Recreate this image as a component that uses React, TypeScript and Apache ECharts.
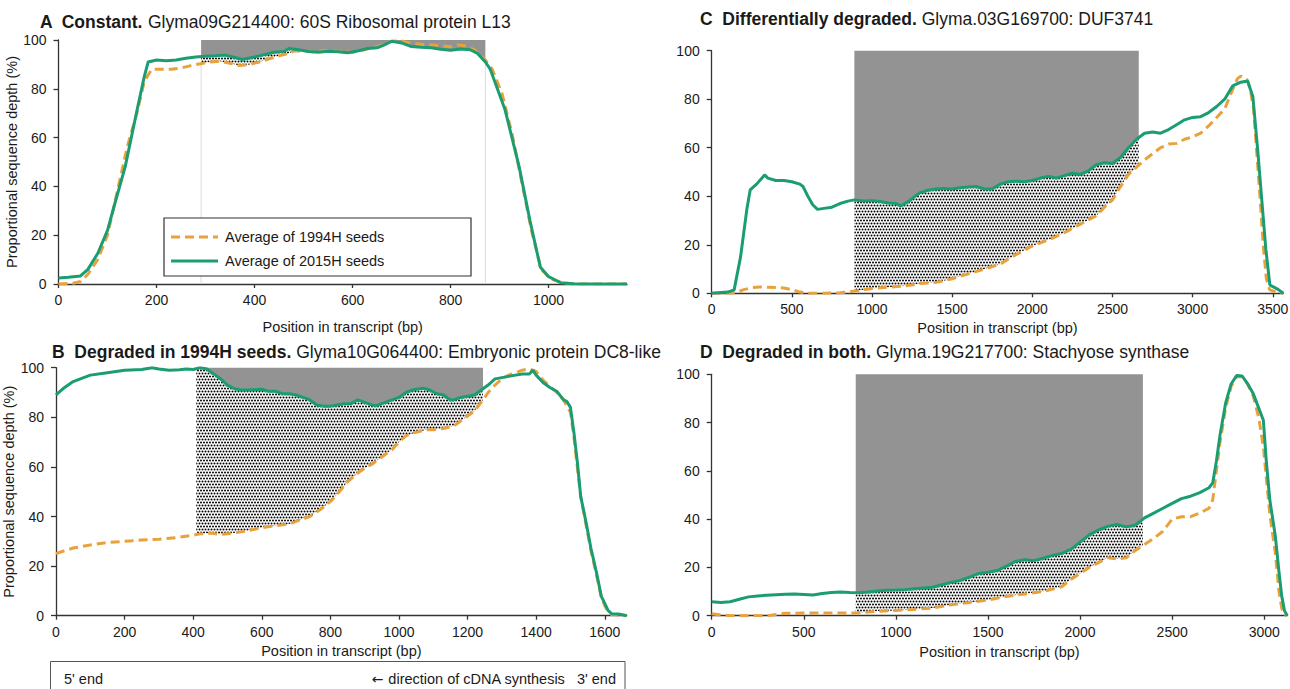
import React, { useEffect, useRef } from 'react';
import * as echarts from 'echarts';

const FONT = '"Liberation Sans", Arial, Helvetica, sans-serif';
const ORANGE = '#e9a23b';
const GREEN = '#1a9d72';
const GREY = '#939393';
const INK = '#1a1a1a';
const AXIS = '#333333';

const NAME_1994 = 'Average of 1994H seeds';
const NAME_2015 = 'Average of 2015H seeds';
const X_NAME = 'Position in transcript (bp)';
const Y_NAME = 'Proportional sequence depth (%)';
const Y_TICKS = [0, 20, 40, 60, 80, 100];

// ---------- Panel A ----------
const A_TITLE_BOLD = 'A  Constant.';
const A_TITLE = ' Glyma09G214400: 60S Ribosomal protein L13';
const A_TICKS = [0, 200, 400, 600, 800, 1000];
const A_MAX = 1160;
const A_SHADE = [291, 871];
const A_2015: number[][] = [
  [0, 2.5], [20, 2.8], [45, 3.3], [60, 6], [80, 12.5], [100, 22], [115, 33], [136, 48], [160, 71], [175, 85],
  [183, 91], [200, 91.8], [220, 91.5], [240, 91.8], [260, 92.5], [280, 93], [300, 93.3], [320, 93.5], [340, 93.8],
  [360, 92.8], [375, 92], [400, 93], [420, 94], [440, 95], [460, 95.3], [470, 96.5], [490, 96], [510, 95.3],
  [530, 95], [550, 95.4], [570, 95.2], [590, 94.8], [610, 95.5], [630, 96.5], [650, 96.8], [665, 98], [680, 99.5],
  [700, 98.8], [720, 97.3], [740, 97], [760, 96.8], [780, 96.2], [800, 95.8], [820, 96.3], [840, 96], [855, 94.5],
  [871, 91], [881, 88], [911, 71.5], [940, 48], [962, 26], [983, 7], [1000, 3], [1025, 0.5], [1050, 0.1],
  [1100, 0], [1160, 0],
];
const A_1994: number[][] = [
  [0, 0], [30, 0.3], [45, 1], [60, 4], [80, 10], [100, 20], [120, 38], [140, 56], [160, 70], [175, 83], [190, 88],
  [210, 88], [230, 88], [250, 88.5], [270, 89.5], [290, 90.3], [310, 91], [330, 91.3], [350, 90.5], [370, 89.5],
  [390, 90], [410, 91], [430, 92.3], [450, 93.5], [470, 94.5], [480, 95.5], [500, 95.5], [520, 95.2], [540, 95.6],
  [560, 95.5], [580, 95.3], [600, 95], [620, 95.8], [640, 96.8], [660, 98], [680, 99.5], [700, 99.6], [720, 98.6],
  [740, 98.2], [760, 98], [780, 97.6], [800, 97.2], [815, 98], [830, 97.5], [850, 95.8], [870, 92], [885, 88],
  [905, 78], [925, 62], [945, 42], [965, 22], [985, 6], [1005, 2], [1030, 0.4], [1060, 0], [1160, 0],
];

// ---------- Panel B ----------
const B_TITLE_BOLD = 'B  Degraded in 1994H seeds.';
const B_TITLE = ' Glyma10G064400: Embryonic protein DC8-like';
const B_TICKS = [0, 200, 400, 600, 800, 1000, 1200, 1400, 1600];
const B_MAX = 1664;
const B_SHADE = [409, 1245];
const B_2015: number[][] = [
  [0, 89], [20, 91.5], [50, 94.4], [100, 97], [150, 98], [200, 99], [250, 99.3], [280, 100], [300, 99.5],
  [330, 99], [360, 99.2], [380, 99.5], [400, 99.3], [420, 100], [440, 99.5], [460, 97.5], [480, 95.5], [500, 93],
  [520, 91.5], [540, 91], [560, 91], [600, 91.3], [620, 90.5], [640, 90.5], [660, 89.5], [680, 89.5], [700, 89],
  [720, 88], [740, 87], [760, 85], [780, 84.5], [800, 84.5], [820, 85], [840, 85.5], [860, 85.5], [880, 87],
  [900, 86], [920, 85], [935, 84.7], [960, 86], [980, 87], [1000, 88], [1020, 90], [1040, 91], [1060, 91.5],
  [1070, 91.7], [1090, 91], [1110, 89.5], [1130, 89], [1150, 87], [1160, 87], [1180, 88], [1200, 88.5],
  [1220, 89], [1240, 91], [1260, 93], [1280, 95.5], [1300, 96], [1320, 96.5], [1340, 97], [1360, 97.5],
  [1380, 97.5], [1390, 99], [1400, 97], [1420, 94], [1440, 92], [1460, 90.5], [1480, 87], [1490, 86.3],
  [1500, 84], [1510, 74], [1520, 62], [1530, 48], [1545, 38], [1560, 27], [1575, 18], [1590, 7.8], [1600, 5],
  [1610, 2], [1620, 0.8], [1640, 0.7], [1655, 0.3], [1664, 0],
];
const B_1994: number[][] = [
  [0, 25], [20, 26], [50, 27.3], [100, 28.5], [150, 29.5], [200, 30], [250, 30.5], [300, 30.8], [350, 31.5],
  [400, 32.5], [420, 33], [450, 33.3], [480, 32.8], [500, 33], [550, 34], [600, 35.5], [650, 36.5], [680, 37],
  [700, 38], [740, 40], [770, 42.7], [800, 46], [820, 49], [850, 54], [880, 57.5], [900, 59.5], [920, 61],
  [950, 64], [980, 67], [1000, 70], [1020, 72.5], [1050, 74], [1080, 75], [1100, 75], [1130, 75.5], [1160, 76.5],
  [1180, 78.5], [1200, 80.5], [1220, 82.5], [1245, 87], [1260, 90], [1280, 93], [1300, 95.5], [1320, 97],
  [1340, 98], [1360, 99], [1380, 99.5], [1400, 98.5], [1420, 95], [1440, 92.5], [1460, 90], [1480, 87],
  [1500, 82], [1510, 72], [1520, 60], [1530, 48], [1545, 37], [1560, 26], [1575, 17], [1590, 7.5], [1600, 4],
  [1610, 1.5], [1620, 0.5], [1640, 0.3], [1664, 0],
];

// ---------- Panel C ----------
const C_TITLE_BOLD = 'C  Differentially degraded.';
const C_TITLE = ' Glyma.03G169700: DUF3741';
const C_TICKS = [0, 500, 1000, 1500, 2000, 2500, 3000, 3500];
const C_MAX = 3565;
const C_SHADE = [890, 2664];
const C_2015: number[][] = [
  [0, 0], [100, 0.5], [140, 1.4], [180, 15], [220, 35], [240, 42.6], [280, 45], [330, 48.8], [350, 47.5],
  [400, 46.5], [450, 46.5], [500, 46], [550, 45], [570, 44], [600, 40], [630, 36.5], [660, 34.6], [700, 35],
  [750, 35.5], [800, 37], [850, 38], [890, 38.5], [950, 38], [1000, 38.2], [1050, 37.8], [1100, 37.2],
  [1150, 37], [1180, 36], [1230, 38], [1280, 40.5], [1300, 41.5], [1350, 42.5], [1400, 43], [1450, 43.2],
  [1500, 43], [1550, 43.5], [1600, 43.8], [1650, 44], [1700, 43], [1750, 43], [1800, 45], [1850, 46],
  [1900, 46.2], [1950, 46], [2000, 46.5], [2050, 47.5], [2100, 48.2], [2150, 47.5], [2200, 48.5], [2250, 49.5],
  [2300, 49], [2350, 50.5], [2400, 53], [2450, 53.8], [2500, 53.5], [2550, 56], [2600, 60], [2650, 63.5],
  [2700, 66], [2750, 66.5], [2800, 66], [2850, 67.5], [2900, 69.5], [2950, 71.5], [3000, 72.5], [3050, 72.8],
  [3100, 74.5], [3150, 77], [3200, 80], [3250, 85.5], [3300, 87], [3343, 87.5], [3376, 81], [3406, 59],
  [3432, 38], [3457, 18], [3482, 3.4], [3533, 1.6], [3565, 0],
];
const C_1994: number[][] = [
  [0, 0], [100, 0], [150, 0.3], [200, 1.5], [250, 2.3], [300, 2.6], [350, 2.5], [400, 2.4], [450, 2.2],
  [500, 1.5], [550, 0.5], [600, 0], [700, 0], [800, 0.2], [880, 0.8], [900, 1], [1000, 2], [1100, 2.5],
  [1200, 3], [1300, 4], [1400, 4.5], [1500, 6], [1600, 8], [1700, 10], [1800, 12], [1850, 14], [1900, 16],
  [2000, 19.5], [2100, 22], [2200, 25], [2300, 28.5], [2400, 32], [2450, 35.5], [2500, 38.5], [2550, 44],
  [2600, 49], [2650, 52], [2700, 55], [2750, 57.5], [2800, 60], [2850, 61.5], [2900, 61.8], [2950, 63.5],
  [3000, 64.5], [3050, 66], [3100, 69], [3150, 72.5], [3200, 76], [3250, 84], [3280, 88.5], [3300, 89.5],
  [3340, 88], [3360, 84], [3380, 76], [3400, 58], [3420, 40], [3440, 20], [3460, 6], [3480, 1.5], [3520, 0.5],
  [3565, 0],
];

// ---------- Panel D ----------
const D_TITLE_BOLD = 'D  Degraded in both.';
const D_TITLE = ' Glyma.19G217700: Stachyose synthase';
const D_TICKS = [0, 500, 1000, 1500, 2000, 2500, 3000];
const D_MAX = 3125;
const D_SHADE = [782, 2341];
const D_2015: number[][] = [
  [0, 5.8], [50, 5.5], [100, 5.8], [150, 6.8], [200, 7.8], [250, 8.2], [300, 8.5], [350, 8.7], [400, 8.9],
  [450, 9.0], [500, 8.8], [550, 8.6], [600, 9.2], [650, 9.6], [700, 9.8], [750, 9.6], [800, 9.5], [850, 9.8],
  [900, 10.2], [950, 10.5], [1000, 10.6], [1050, 10.8], [1100, 11.2], [1150, 11.5], [1200, 11.8], [1250, 12.8],
  [1300, 13.8], [1350, 14.6], [1400, 16], [1450, 17.5], [1500, 18], [1550, 18.7], [1600, 20.5], [1650, 22.5],
  [1700, 23.2], [1750, 22.8], [1800, 23.8], [1850, 25], [1900, 25.8], [1950, 27.5], [2000, 30.5], [2050, 33.5],
  [2100, 35.5], [2150, 37], [2200, 37.8], [2250, 36.8], [2300, 37.5], [2350, 40.5], [2400, 42.5], [2450, 44.5],
  [2500, 46.5], [2550, 48.5], [2600, 49.5], [2650, 51], [2700, 53], [2720, 55], [2740, 64], [2760, 75],
  [2790, 88], [2820, 96], [2850, 99.5], [2880, 99.3], [2910, 96], [2940, 92], [2970, 86], [2995, 81],
  [3010, 65], [3030, 48], [3060, 33], [3080, 18], [3095, 8], [3110, 2], [3125, 0],
];
const D_1994: number[][] = [
  [0, 0.8], [50, 0.3], [100, 0], [300, 0], [350, 0.5], [400, 1], [500, 1.1], [700, 1.1], [800, 1.2], [850, 1.5],
  [900, 1.8], [1000, 2.2], [1100, 2.6], [1200, 3.2], [1300, 4.5], [1400, 5.5], [1500, 6.5], [1600, 8],
  [1700, 9], [1800, 10], [1900, 12], [1950, 15], [2000, 17.5], [2050, 20], [2100, 22], [2150, 24], [2200, 23.5],
  [2250, 24], [2300, 27], [2350, 29.5], [2400, 32], [2450, 35], [2500, 40], [2550, 41], [2600, 41],
  [2650, 42.5], [2700, 44.5], [2720, 48], [2740, 60], [2760, 72], [2790, 86], [2820, 95], [2850, 99],
  [2880, 99], [2910, 96], [2940, 91], [2970, 82], [2995, 70], [3010, 58], [3030, 42], [3060, 26], [3080, 10],
  [3095, 3], [3110, 0.5], [3125, 0],
];

const FOOT_LEFT = "5' end";
const FOOT_ARROW = '\u2190';
const FOOT_RIGHT = " direction of cDNA synthesis   3' end";

function interp(arr: number[][], x: number): number {
  for (let i = 0; i < arr.length - 1; i++) {
    const a = arr[i], b = arr[i + 1];
    if (x >= a[0] && x <= b[0]) {
      const t = b[0] === a[0] ? 0 : (x - a[0]) / (b[0] - a[0]);
      return a[1] + t * (b[1] - a[1]);
    }
  }
  return arr[arr.length - 1][1];
}

function makeShade(g: number[][], o: number[][], shade: number[], edges: boolean, pattern: any) {
  const [xs, xe] = shade;
  return (_params: any, api: any) => {
    const c = (x: number, y: number) => api.coord([x, y]);
    const gPath = [[xs, interp(g, xs)], ...g.filter((p) => p[0] > xs && p[0] < xe), [xe, interp(g, xe)]];
    const oPath = [[xs, interp(o, xs)], ...o.filter((p) => p[0] > xs && p[0] < xe), [xe, interp(o, xe)]].map(
      (p) => [p[0], Math.min(p[1], interp(g, p[0]))]
    );
    const greyPts = [c(xs, 100), c(xe, 100), ...gPath.slice().reverse().map((p) => c(p[0], p[1]))];
    const dotPts = [...gPath.map((p) => c(p[0], p[1])), ...oPath.slice().reverse().map((p) => c(p[0], p[1]))];
    const children: any[] = [
      { type: 'polygon', shape: { points: greyPts }, style: { fill: GREY, stroke: null } },
      { type: 'polygon', shape: { points: dotPts }, style: { fill: pattern, stroke: null } },
    ];
    if (edges) {
      [xs, xe].forEach((x) => {
        const p0 = c(x, 0);
        const p1 = c(x, Math.min(interp(g, x), interp(o, x)));
        children.push({
          type: 'line',
          shape: { x1: p0[0], y1: p0[1], x2: p1[0], y2: p1[1] },
          style: { stroke: '#dcdcdc', lineWidth: 1 },
        });
      });
    }
    return { type: 'group', children };
  };
}

export default function App() {
  const ref = useRef<HTMLDivElement>(null);
  useEffect(() => {
    if (!ref.current) return;
    const chart = echarts.init(ref.current, undefined, { renderer: 'svg' });

    // staggered dot tile
    const cv = document.createElement('canvas');
    cv.width = 6;
    cv.height = 6;
    const ctx = cv.getContext('2d')!;
    ctx.fillStyle = '#ffffff';
    ctx.fillRect(0, 0, 6, 6);
    ctx.fillStyle = '#000000';
    [[1.5, 1.5], [4.5, 1.5], [0, 4.5], [3, 4.5], [6, 4.5]].forEach(([x, y]) => {
      ctx.beginPath();
      ctx.arc(x, y, 1.0, 0, Math.PI * 2);
      ctx.fill();
    });
    const pattern = { image: cv, repeat: 'repeat' };

    const panels = [
      { g: A_2015, o: A_1994, shade: A_SHADE, ticks: A_TICKS, max: A_MAX, interval: 200, edges: true,
        grid: { left: 58.5, top: 40, width: 568.5, height: 244 }, yName: true, nameGap: 35 },
      { g: B_2015, o: B_1994, shade: B_SHADE, ticks: B_TICKS, max: B_MAX, interval: 200, edges: false,
        grid: { left: 56, top: 367.7, width: 570.7, height: 248 }, yName: true, nameGap: 28 },
      { g: C_2015, o: C_1994, shade: C_SHADE, ticks: C_TICKS, max: C_MAX, interval: 500, edges: false,
        grid: { left: 711.7, top: 50.7, width: 571.5, height: 242.6 }, yName: false, nameGap: 27 },
      { g: D_2015, o: D_1994, shade: D_SHADE, ticks: D_TICKS, max: D_MAX, interval: 500, edges: false,
        grid: { left: 711.7, top: 374.3, width: 575.6, height: 241.4 }, yName: false, nameGap: 29 },
    ];

    const fmt = (v: number) => String(v);
    const grid = panels.map((p) => ({ ...p.grid, containLabel: false, outerBoundsMode: 'none' }));
    const xAxis = panels.map((p, i) => ({
      type: 'value', gridIndex: i, min: 0, max: p.max, interval: p.interval,
      name: X_NAME, nameLocation: 'middle', nameGap: p.nameGap,
      nameTextStyle: { fontSize: 14.5, color: INK, fontFamily: FONT },
      axisLine: { show: true, onZero: false, lineStyle: { color: AXIS, width: 1.3 } },
      axisTick: { show: true, length: 4, customValues: p.ticks, lineStyle: { color: AXIS, width: 1.3 } },
      axisLabel: { customValues: p.ticks, formatter: fmt, fontSize: 14, color: INK, fontFamily: FONT, margin: 9 },
      splitLine: { show: false },
    }));
    const yAxis = panels.map((p, i) => ({
      type: 'value', gridIndex: i, min: 0, max: 100, interval: 20,
      name: p.yName ? Y_NAME : '', nameLocation: 'middle', nameGap: 32,
      nameTextStyle: { fontSize: 14.5, color: INK, fontFamily: FONT },
      axisLine: { show: true, lineStyle: { color: AXIS, width: 1.3 } },
      axisTick: { show: true, length: 5, customValues: Y_TICKS, lineStyle: { color: AXIS, width: 1.3 } },
      axisLabel: { customValues: Y_TICKS, formatter: fmt, fontSize: 14, color: INK, fontFamily: FONT, margin: 12 },
      splitLine: { show: false },
    }));

    const series: any[] = [];
    panels.forEach((p, i) => {
      series.push({
        type: 'custom', xAxisIndex: i, yAxisIndex: i, data: [[p.shade[0], 0]], silent: true, z: 1,
        renderItem: makeShade(p.g, p.o, p.shade, p.edges, pattern),
      });
      series.push({
        name: NAME_1994, type: 'line', xAxisIndex: i, yAxisIndex: i, data: p.o, symbol: 'none', z: 3,
        lineStyle: { color: ORANGE, width: 3, type: [9, 5] }, itemStyle: { color: ORANGE },
      });
      series.push({
        name: NAME_2015, type: 'line', xAxisIndex: i, yAxisIndex: i, data: p.g, symbol: 'none', z: 4,
        lineStyle: { color: GREEN, width: 3 }, itemStyle: { color: GREEN },
      });
    });

    const titleText = (bold: string, rest: string, x: number, y: number) => ({
      type: 'text', x, y, z: 20,
      style: {
        text: `{b|${bold}}${rest}`,
        rich: { b: { fontWeight: 'bold', fontSize: 17.5, fontFamily: FONT, fill: INK } },
        fontSize: 17.5, fontFamily: FONT, fill: INK, verticalAlign: 'middle',
      },
    });
    const txt = (text: string, x: number, y: number, extra: any = {}) => ({
      type: 'text', x, y, z: 21,
      style: { text, fontSize: 14.5, fontFamily: FONT, fill: INK, verticalAlign: 'middle', ...extra },
    });

    chart.setOption({
      animation: false,
      textStyle: { fontFamily: FONT },
      grid, xAxis, yAxis, series,
      graphic: [
        titleText(A_TITLE_BOLD, A_TITLE, 40, 21.5),
        titleText(B_TITLE_BOLD, B_TITLE, 52, 351.5),
        titleText(C_TITLE_BOLD, C_TITLE, 700, 19),
        titleText(D_TITLE_BOLD, D_TITLE, 700, 351.5),
        // legend box (panel A)
        { type: 'rect', z: 10, shape: { x: 164, y: 218, width: 307, height: 58 },
          style: { fill: '#ffffff', stroke: '#333333', lineWidth: 1.2 } },
        { type: 'line', z: 11, shape: { x1: 171, y1: 237, x2: 218, y2: 237 },
          style: { stroke: ORANGE, lineWidth: 3, lineDash: [9, 5] } },
        { type: 'line', z: 11, shape: { x1: 171, y1: 261, x2: 218, y2: 261 },
          style: { stroke: GREEN, lineWidth: 3 } },
        txt(NAME_1994, 225, 237),
        txt(NAME_2015, 225, 261),
        // footer box
        { type: 'rect', z: 10, shape: { x: 50.5, y: 661.5, width: 574.5, height: 40 },
          style: { fill: 'none', stroke: '#555555', lineWidth: 1 } },
        txt(FOOT_LEFT, 64, 679),
        {
          type: 'text', x: 616, y: 679, z: 21,
          style: {
            text: `{a|${FOOT_ARROW}}${FOOT_RIGHT}`,
            rich: { a: { fontFamily: '"DejaVu Sans", sans-serif', fontSize: 14, fill: INK } },
            fontSize: 14.5, fontFamily: FONT, fill: INK, verticalAlign: 'middle', align: 'right',
          },
        },
      ],
    });
    return () => chart.dispose();
  }, []);
  return <div ref={ref} style={{ position: 'absolute', left: 0, top: 0, width: 1290, height: 689 }} />;
}
